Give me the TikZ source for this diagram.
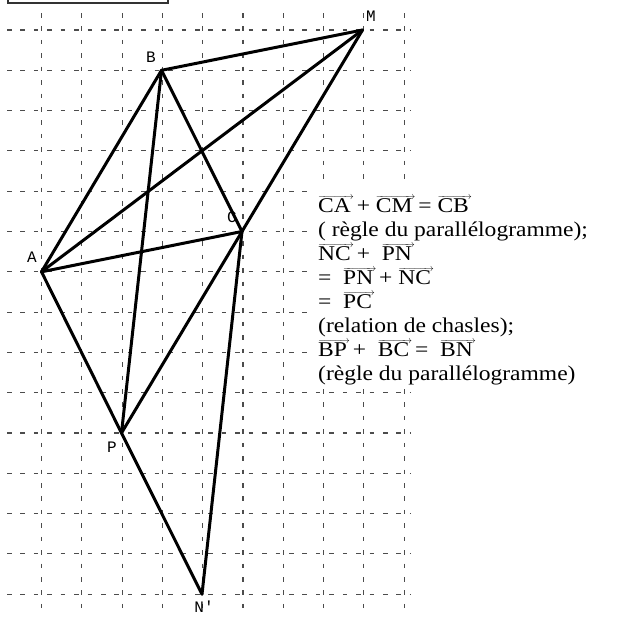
\documentclass[tikz,border=0pt]{standalone}
\usepackage{fontspec}
\setmainfont{Liberation Serif}[FakeStretch=1.12]
\newfontfamily\ptfont{Liberation Mono}
\usetikzlibrary{positioning}
% thin arrow set close above the letters
\newcommand{\vect}[1]{\setbox0=\hbox{#1}%
  \leavevmode\rlap{\raisebox{\dimexpr\ht0-1.5pt\relax}{\hbox to \dimexpr\wd0+3pt\relax{\fontsize{10}{10}\selectfont\rightarrowfill}}}\box0{}}

\begin{document}
\begin{tikzpicture}[
  x=1pt, y=-1pt,
  gridline/.style={draw=black!70, line width=1.1pt, dash pattern=on 4.5pt off 8.93pt},
  side/.style={line width=3pt, line cap=round, line join=round},
  ptlabel/.style={font=\ptfont\fontsize{16}{16}\selectfont, inner sep=0pt},
  eqline/.style={anchor=base west, inner sep=0pt, font=\fontsize{21}{24}\selectfont}
]
\useasboundingbox (0,0) rectangle (624,616);

% frame cut at the top
\draw[black!80, line width=2.5pt] (8,-10) rectangle (168,3);

% dashed grid
\foreach \i in {0,...,9}
  \draw[gridline] ({41.5+40.3*\i},13) -- ({41.5+40.3*\i},616);
\foreach \j in {0,...,14}
  \draw[gridline] (7,{30+40.3*\j}) -- (410,{30+40.3*\j});

% points
\coordinate (A) at (41.5,271.8);
\coordinate (B) at (161.5,70.3);
\coordinate (M) at (362.5,30);
\coordinate (C) at (242,231.5);
\coordinate (P) at (121.5,433);
\coordinate (N) at (202,594.2);

\draw[side] (A) -- (B);
\draw[side] (B) -- (M);
\draw[side] (A) -- (M);
\draw[side] (A) -- (C);
\draw[side] (B) -- (C);
\draw[side] (C) -- (M);
\draw[side] (C) -- (P);
\draw[side] (C) -- (N);
\draw[side] (B) -- (P);
\draw[side] (A) -- (P);
\draw[side] (P) -- (N);

\node[ptlabel] (lA) at (32,257) {A};
\node[ptlabel] (lB) at (151,57) {B};
\node[ptlabel] (lM) at (371,16) {M};
\node[ptlabel] (lC) at (232,217) {C};
\node[ptlabel] (lP) at (112,447) {P};
\node[ptlabel] (lN) at (204,607) {N'};

% explanations
\fill[white] (308,184) rectangle (624,388);
\node[eqline] (t1) at (318,212) {\vect{CA} + \vect{CM} = \vect{CB}};
\node[eqline] (t2) at (318,236) {( règle du parallélogramme);};
\node[eqline] (t3) at (318,260) {\vect{NC} +~ \vect{PN}};
\node[eqline] (t4) at (318,284) {=~ \vect{PN} + \vect{NC}};
\node[eqline] (t5) at (318,308) {=~ \vect{PC}};
\node[eqline] (t6) at (318,332) {(relation de chasles);};
\node[eqline] (t7) at (318,356) {\vect{BP} +~ \vect{BC} =~ \vect{BN}};
\node[eqline] (t8) at (318,380) {(règle du parallélogramme)};

\end{tikzpicture}
\end{document}
